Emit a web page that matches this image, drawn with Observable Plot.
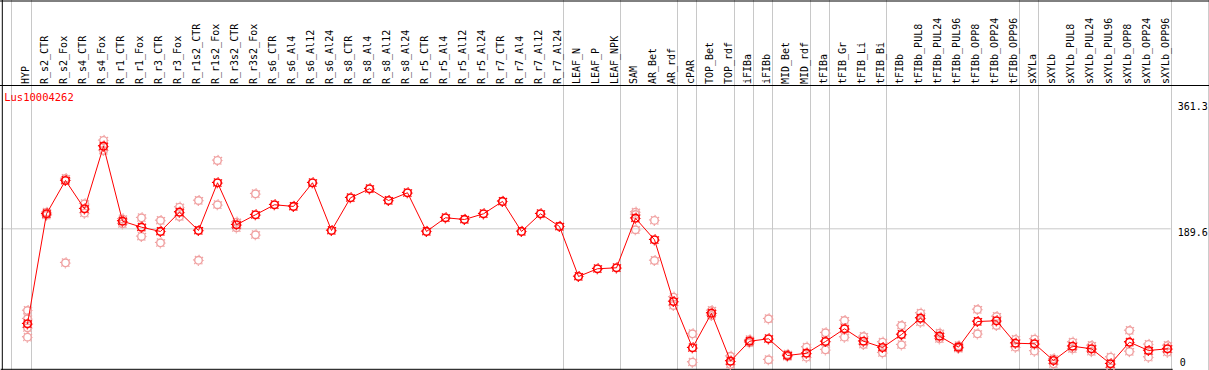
<!DOCTYPE html>
<html>
<head>
<meta charset="utf-8">
<script src="https://cdn.jsdelivr.net/npm/d3@7"></script>
<script src="https://cdn.jsdelivr.net/npm/@observablehq/plot@0.6"></script>
<style>
  html, body { margin: 0; padding: 0; background: #fff; }
  #chart svg { display: block; }
</style>
</head>
<body>
<div id="chart"></div>
<script>
const title = "Lus10004262";
const categories = [
  "HYP","R_s2_CTR","R_s2_Fox","R_s4_CTR","R_s4_Fox","R_r1_CTR","R_r1_Fox","R_r3_CTR","R_r3_Fox",
  "R_r1s2_CTR","R_r1s2_Fox","R_r3s2_CTR","R_r3s2_Fox","R_s6_CTR","R_s6_Al4","R_s6_Al12","R_s6_Al24",
  "R_s8_CTR","R_s8_Al4","R_s8_Al12","R_s8_Al24","R_r5_CTR","R_r5_Al4","R_r5_Al12","R_r5_Al24",
  "R_r7_CTR","R_r7_Al4","R_r7_Al12","R_r7_Al24","LEAF_N","LEAF_P","LEAF_NPK","SAM","AR_Bet","AR_rdf",
  "cPAR","TOP_Bet","TOP_rdf","iFIBa","iFIBb","MID_Bet","MID_rdf","tFIBa","tFIB_Gr","tFIB_Li","tFIB_Bi",
  "tFIBb","tFIBb_PUL8","tFIBb_PUL24","tFIBb_PUL96","tFIBb_OPP8","tFIBb_OPP24","tFIBb_OPP96","sXYLa",
  "sXYLb","sXYLb_PUL8","sXYLb_PUL24","sXYLb_PUL96","sXYLb_OPP8","sXYLb_OPP24","sXYLb_OPP96"
];
const means = [
  60.5, 210.0, 255.3, 216.8, 301.9, 200.0, 191.8, 186.0, 212.2, 187.3, 252.2, 195.1, 208.7,
  222.3, 220.0, 252.2, 187.3, 231.8, 244.0, 228.1, 238.6, 186.0, 204.6, 202.3, 210.0,
  226.8, 186.0, 210.0, 192.8, 124.8, 135.3, 136.6, 204.0, 174.7, 90.8,
  27.9, 74.9, 9.7, 36.8, 40.1, 17.4, 20.5, 36.4, 53.7, 36.8, 28.3,
  45.9, 68.1, 43.6, 28.7, 63.6, 64.6, 34.1, 33.3,
  10.6, 30.0, 26.5, 6.1, 35.5, 24.2, 26.5
];
const rep1 = [
  78.6, 212.0, 143.4, 223.6, 309.7, 203.0, 204.6, 200.9, 219.0, 228.1, 282.5, 198.6, 237.2,
  null, null, null, null, null, null, null, null, null, null, null, null,
  null, null, null, null, null, null, null, 212.2, 201.0, 96.7,
  46.9, 78.6, 16.4, 38.7, 67.3, 19.0, 28.7, 48.3, 65.0, 43.2, 35.5,
  58.2, 74.9, 47.7, 30.5, 79.9, 70.4, 39.2, 39.6,
  12.9, 35.5, 31.0, 15.1, 51.4, 32.4, 31.0
];
const rep2 = [
  67.3, 208.0, 258.0, 210.9, 296.1, 196.4, 179.2, 170.6, 206.4, 146.8, 222.3, 191.0, 181.5,
  null, null, null, null, null, null, null, null, null, null, null, null,
  null, null, null, null, null, null, null, 188.3, 146.5, 85.4,
  8.3, 71.8, 5.2, 34.7, 11.6, 16.0, 15.1, 25.1, 42.3, 32.4, 21.1,
  31.9, 62.7, 40.1, 27.0, 46.9, 58.2, 28.7, 23.3,
  6.1, 26.5, 22.8, 0.7, 22.8, 15.1, 21.9
];
const rep3 = [
  55.1, null, null, null, null, null, null, null, null, null, null, null, null,
  null, null, null, null, null, null, null, null, null, null, null, null,
  null, null, null, null, null, null, null, 209.0, null, null,
  null, null, null, null, null, null, null, null, null, null, null,
  null, null, null, null, null, null, null, null,
  null, null, null, null, null, null, null
];
const rep4 = [42.3];
const groupEnds = ["HYP","R_r7_Al24","LEAF_NPK","AR_rdf","cPAR","TOP_rdf","iFIBa","iFIBb",
  "MID_rdf","tFIBa","tFIB_Bi","tFIBb_OPP96","sXYLa","sXYLb_OPP96"];
const yTicks = [361.3, 189.6];
const yZero = [0];

const meanRows = categories.map((c, i) => ({cat: c, value: means[i]}));
const repRows = [];
[rep1, rep2, rep3, rep4].forEach(arr => arr.forEach((v, i) => {
  if (v != null) repRows.push({cat: categories[i], value: v});
}));

const RED = "#ff0000";
const PINK = "#f0a0a0";
const GRID = "#c8c8c8";
const font = "'DejaVu Sans Mono', 'Liberation Mono', monospace";

const chart = Plot.plot({
  width: 1209,
  height: 370,
  marginLeft: 26.7,
  marginRight: 42.3,
  marginTop: 102,
  marginBottom: 2.2,
  x: {type: "point", domain: categories, padding: 0, axis: null},
  y: {domain: [0, 361.3], axis: null},
  style: {fontFamily: font, fontSize: "10px", background: "#fff", overflow: "hidden"},
  marks: [
    // vertical group separators (full height)
    Plot.ruleX(["HYP"], {dx: -16, stroke: GRID, insetTop: -102, insetBottom: -3}),
    Plot.ruleX(groupEnds, {dx: 4, stroke: GRID, insetTop: -102, insetBottom: -3}),
    // horizontal gridline
    Plot.ruleY([yTicks[1]], {stroke: GRID, insetLeft: -25.7, insetRight: -4}),
    // frame lines
    Plot.ruleY([yTicks[0]], {dy: -17, stroke: "#000", insetLeft: -27, insetRight: -43}),
    Plot.ruleY([yTicks[0]], {dy: -101.5, stroke: "#000", insetLeft: -27, insetRight: -43}),
    Plot.ruleY(yZero, {dy: 1, stroke: "#000", insetLeft: -26, insetRight: -6}),
    Plot.ruleX(["HYP"], {dx: -25.2, stroke: "#000", insetTop: -102, insetBottom: -3}),
    Plot.ruleX(["sXYLb_OPP96"], {dx: 41.8, stroke: "#000", insetTop: -102, insetBottom: -3}),
    // header category labels
    Plot.text(categories, {x: d => d, frameAnchor: "top", dy: -18.5, dx: -1.5, rotate: -90,
      textAnchor: "start", lineAnchor: "middle", fill: "#000", fontSize: 10}),
    // title
    Plot.text([title], {frameAnchor: "top-left", dx: -23, dy: -4.5, textAnchor: "start",
      lineAnchor: "middle", fill: RED, fontSize: 10.5}),
    // right value labels
    Plot.text(yTicks, {y: d => d, frameAnchor: "right", dx: 10.5, dy: 4, textAnchor: "start",
      lineAnchor: "middle", text: d => d.toFixed(1), fill: "#000", fontSize: 10}),
    Plot.text(yZero, {y: d => d, frameAnchor: "right", dx: 12.5, dy: -6, textAnchor: "start",
      lineAnchor: "middle", text: d => String(d), fill: "#000", fontSize: 10}),
    // replicates
    Plot.dot(repRows, {x: "cat", y: "value", r: 5, stroke: PINK, strokeWidth: 1.2,
      strokeDasharray: "1.2 2.73", strokeDashoffset: 0.6}),
    Plot.dot(repRows, {x: "cat", y: "value", r: 3.8, stroke: PINK, strokeWidth: 1.4}),
    // mean line
    Plot.line(meanRows, {x: "cat", y: "value", stroke: RED, strokeWidth: 1}),
    // means
    Plot.dot(meanRows, {x: "cat", y: "value", r: 5, stroke: RED, strokeWidth: 1.2,
      strokeDasharray: "1.2 2.73", strokeDashoffset: 0.6}),
    Plot.dot(meanRows, {x: "cat", y: "value", r: 3.8, stroke: RED, strokeWidth: 1.6})
  ]
});
document.getElementById("chart").appendChild(chart);
</script>
</body>
</html>
